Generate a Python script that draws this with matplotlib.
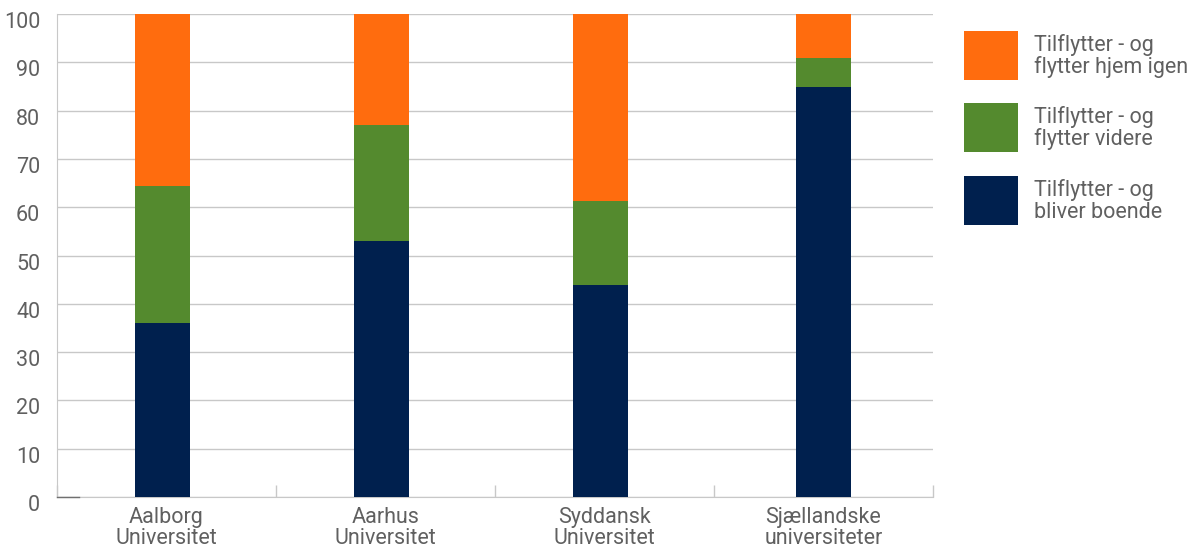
import matplotlib
matplotlib.use("Agg")
import matplotlib.pyplot as plt
from matplotlib.patches import Rectangle
import matplotlib.transforms as mtransforms
import numpy as np

categories = ["Aalborg\nUniversitet", "Aarhus\nUniversitet", "Syddansk\nUniversitet", "Sjællandske\nuniversiteter"]
bliver_boende = [36.0, 53.1, 43.8, 84.9]
flytter_videre = [28.4, 23.9, 17.4, 6.0]
flytter_hjem = [35.6, 23.0, 38.8, 9.1]
series_labels = ["Tilflytter - og\nflytter hjem igen", "Tilflytter - og\nflytter videre", "Tilflytter - og\nbliver boende"]
yticks = [0, 10, 20, 30, 40, 50, 60, 70, 80, 90, 100]

c_navy = "#00204E"
c_green = "#548A2E"
c_orange = "#FF6C0E"
grid_c = "#C8C8C8"
text_c = "#606060"

plt.rcParams['font.family'] = ['Roboto', 'DejaVu Sans']

W, H = 1194, 549
fig = plt.figure(figsize=(W/100, H/100), dpi=100)
ax = fig.add_axes([57/W, 1-497/H, (933-57)/W, (497-14)/H])

x = np.arange(len(categories))
offs = np.array([-0.018, -0.018, -0.018, 0.0])
w = 0.25
b1 = np.array(bliver_boende)
b2 = np.array(flytter_videre)
b3 = np.array(flytter_hjem)
ax.bar(x + offs, b1, w, color=c_navy, zorder=3)
ax.bar(x + offs, b2, w, bottom=b1, color=c_green, zorder=3)
ax.bar(x + offs, b3, w, bottom=b1 + b2, color=c_orange, zorder=3)

ax.set_xlim(-0.5, 3.5)
ax.set_ylim(0, 100)
ax.set_yticks(yticks)
ax.set_yticklabels([str(v) for v in yticks])
ax.yaxis.grid(True, color=grid_c, linewidth=1.0, zorder=0)
ax.tick_params(axis='y', length=0, pad=12, labelsize=15.5, labelcolor=text_c)
shift = mtransforms.ScaledTranslation(0, -6/100, fig.dpi_scale_trans)
for lbl in ax.get_yticklabels():
    lbl.set_transform(lbl.get_transform() + shift)

ax.set_xticks([-0.5, 0.5, 1.5, 2.5, 3.5])
ax.set_xticklabels([])
ax.tick_params(axis='x', which='major', direction='in', length=9, color=grid_c, width=1.0)
ax.set_xticks(x, minor=True)
ax.set_xticklabels(categories, minor=True)
ax.tick_params(axis='x', which='minor', length=0, pad=7, labelsize=15.5, labelcolor=text_c)
for lbl in ax.get_xticklabels(minor=True):
    lbl.set_linespacing(1.0)

for s in ['top', 'right']:
    ax.spines[s].set_visible(False)
ax.spines['left'].set_color(grid_c)
ax.spines['bottom'].set_color(grid_c)
ax.plot([-0.5, -0.4], [0, 0], color="#707070", lw=1.0, zorder=4, clip_on=False)

# manual legend (pixel-based layout)
leg_colors = [c_orange, c_green, c_navy]
tops = [31, 103, 176]
for col, top, lab in zip(leg_colors, tops, series_labels):
    fig.patches.append(Rectangle((964/W, 1-(top+49)/H), 54/W, 49/H, transform=fig.transFigure,
                                 facecolor=col, edgecolor='none'))
    fig.text(1034/W, 1-(top+25)/H, lab, fontsize=15.5, color=text_c, va='center', ha='left',
             linespacing=1.05)

fig.savefig("out.png", dpi=100)
